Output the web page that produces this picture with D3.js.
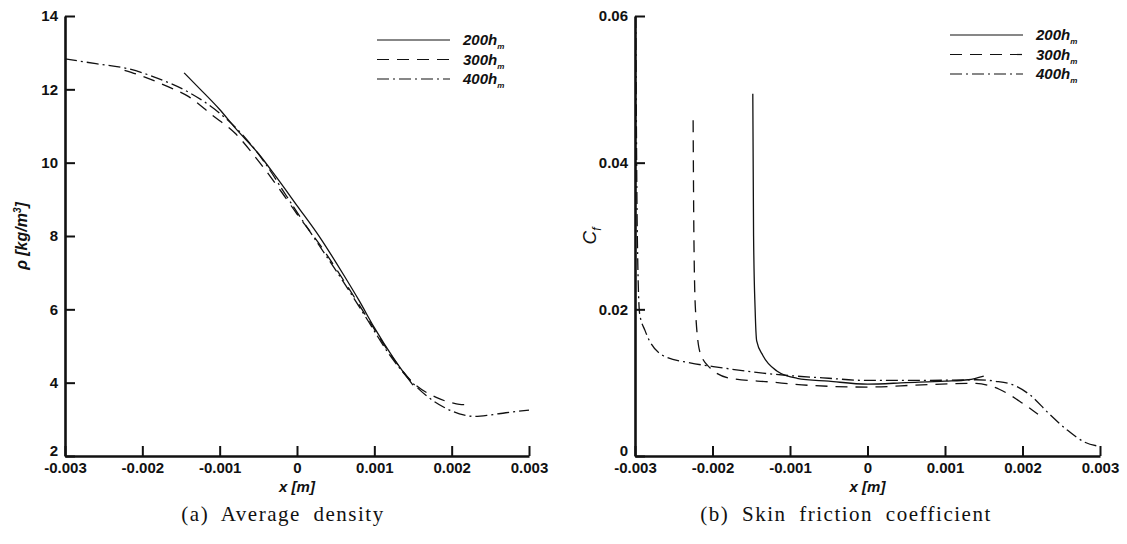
<!DOCTYPE html>
<html>
<head>
<meta charset="utf-8">
<script src="https://cdn.jsdelivr.net/npm/d3@7"></script>
<style>
  body { margin: 0; background: #fff; }
  .tick text { font-family: "Liberation Sans", Arial, sans-serif; font-weight: bold; font-size: 15px; fill: #111; }
  .axlabel { font-family: "Liberation Sans", Arial, sans-serif; font-style: italic; font-weight: bold; fill: #111; }
  .caption { font-family: "Liberation Serif", "DejaVu Serif", serif; font-size: 21px; fill: #111; letter-spacing: 1.5px; word-spacing: 6px; }
  .legtext { font-family: "Liberation Sans", Arial, sans-serif; font-style: italic; font-weight: bold; font-size: 15px; fill: #111; }
</style>
</head>
<body>
<script>
// tick values
const xTicks = [-0.003, -0.002, -0.001, 0, 0.001, 0.002, 0.003];
const rhoTicks = [2, 4, 6, 8, 10, 12, 14];
const cfTicks = [0, 0.02, 0.04, 0.06];
const seriesNames = ["200", "300", "400"];

// average density, [x, rho]
const rho200 = [[-0.00146, 12.45], [-0.00125, 12.0], [-0.001, 11.45], [-0.0008, 10.95], [-0.0005, 10.25],
  [-0.0003, 9.7], [0, 8.83], [0.0003, 7.95], [0.0006, 6.95], [0.0008, 6.25], [0.001, 5.5], [0.00125, 4.66], [0.0015, 3.93]];
const rho300 = [[-0.00223, 12.52], [-0.002, 12.36], [-0.0017, 12.1], [-0.0014, 11.8], [-0.0011, 11.3], [-0.0008, 10.8],
  [-0.0005, 10.05], [-0.0002, 9.2], [0, 8.6], [0.0003, 7.75], [0.0006, 6.8], [0.0009, 5.8], [0.0012, 4.8],
  [0.0015, 4.0], [0.0018, 3.6], [0.002, 3.45], [0.0021, 3.41], [0.00224, 3.4]];
const rho400 = [[-0.003, 12.83], [-0.0026, 12.7], [-0.0022, 12.57], [-0.0018, 12.3], [-0.0014, 11.92], [-0.001, 11.35],
  [-0.0007, 10.75], [-0.0004, 9.95], [-0.0002, 9.3], [0, 8.65], [0.0003, 7.7], [0.0006, 6.75], [0.0009, 5.75],
  [0.0012, 4.75], [0.0015, 3.98], [0.0017, 3.6], [0.0019, 3.33], [0.0021, 3.15], [0.0023, 3.08], [0.0025, 3.12],
  [0.0027, 3.18], [0.003, 3.25]];

// skin friction coefficient, [x, Cf]
const cf200 = [[-0.00148, 0.0494], [-0.00147, 0.03], [-0.00145, 0.02], [-0.00143, 0.0157], [-0.00135, 0.0137],
  [-0.00117, 0.0116], [-0.00091, 0.0106], [-0.0005, 0.0102], [0, 0.0098], [0.0005, 0.01], [0.001, 0.0102],
  [0.0013, 0.0104], [0.0015, 0.0109]];
const cf300 = [[-0.00225, 0.0458], [-0.00224, 0.03], [-0.00222, 0.02], [-0.00216, 0.0141], [-0.00203, 0.012],
  [-0.00177, 0.0106], [-0.00126, 0.0101], [-0.0007, 0.0096], [0, 0.0094], [0.0007, 0.0097], [0.0014, 0.0099],
  [0.0017, 0.0091], [0.002, 0.0072], [0.0022, 0.0057]];
const cf400 = [[-0.00299, 0.06], [-0.00297, 0.03], [-0.00294, 0.0194], [-0.00287, 0.0171], [-0.00264, 0.0137],
  [-0.00229, 0.0127], [-0.00199, 0.0122], [-0.00135, 0.0113], [-0.0005, 0.0106], [0, 0.0103], [0.0007, 0.0103],
  [0.0014, 0.0104], [0.00165, 0.0102], [0.0019, 0.0096], [0.0021, 0.0083], [0.00233, 0.0059], [0.00257, 0.0036],
  [0.0028, 0.0019], [0.003, 0.0013]];

const w = 1127, h = 544;
const dashes = [null, "12,8", "12,4,2,4"];

var svg = d3.select("body").append("svg")
  .attr("width", w)
  .attr("height", h);

const xFmt = d => d === 0 ? "0" : d.toFixed(3);

function panel(opt) {
  var x = d3.scaleLinear().domain([-0.003, 0.003]).range(opt.xr);
  var y = d3.scaleLinear().domain(opt.ydom).range([456, 16]);

  var g = svg.append("g");

  //curves
  var line = d3.line().x(d => x(d[0])).y(d => y(d[1])).curve(d3.curveMonotoneX);
  opt.series.forEach((s, i) => {
    g.append("path")
      .attr("d", line(s))
      .attr("fill", "none")
      .attr("stroke", "#111")
      .attr("stroke-width", 1.3)
      .attr("stroke-dasharray", dashes[i]);
  });

  //axes, ticks point inward
  var xAxis = g.append("g")
    .attr("transform", "translate(0,456)")
    .call(d3.axisBottom(x).tickValues(xTicks).tickFormat(xFmt).tickSizeInner(-10).tickSizeOuter(0).tickPadding(6));
  var yAxis = g.append("g")
    .attr("transform", `translate(${opt.xr[0]},0)`)
    .call(d3.axisLeft(y).tickValues(opt.yticks).tickFormat(opt.yfmt).tickSizeInner(-10).tickSizeOuter(0).tickPadding(7));
  [xAxis, yAxis].forEach(a => {
    a.select(".domain").attr("stroke", "#111").attr("stroke-width", 2.6);
    a.selectAll(".tick line").attr("stroke", "#111").attr("stroke-width", 2);
  });
  //bottom y label sits just above the first x label
  yAxis.selectAll(".tick text").filter(d => d === opt.ydom[0]).attr("y", -5);

  //x label
  g.append("text")
    .attr("class", "axlabel")
    .attr("x", (opt.xr[0] + opt.xr[1]) / 2)
    .attr("y", 492)
    .attr("text-anchor", "middle")
    .style("font-size", "15px")
    .text("x [m]");

  //caption
  g.append("text")
    .attr("class", "caption")
    .attr("x", opt.capx)
    .attr("y", 521)
    .attr("text-anchor", "middle")
    .text(opt.caption);

  //legend
  opt.series.forEach((s, i) => {
    var ly = opt.leg[1] + i * 19.5;
    g.append("line")
      .attr("x1", opt.leg[0]).attr("x2", opt.leg[0] + 73)
      .attr("y1", ly).attr("y2", ly)
      .attr("stroke", "#111")
      .attr("stroke-width", 1.2)
      .attr("stroke-dasharray", dashes[i]);
    var t = g.append("text")
      .attr("class", "legtext")
      .attr("x", opt.leg[0] + 86)
      .attr("y", ly + 5);
    t.append("tspan").text(seriesNames[i] + "h");
    t.append("tspan").attr("dy", 4).style("font-size", "8px").text("m");
  });

  return g;
}

var left = panel({
  xr: [65, 529], ydom: [2, 14], yticks: rhoTicks, yfmt: d => d,
  series: [rho200, rho300, rho400],
  caption: "(a) Average density", capx: 283,
  leg: [377, 40]
});
//rho label
var rl = left.append("text")
  .attr("class", "axlabel")
  .attr("transform", "translate(27,236) rotate(-90)")
  .attr("text-anchor", "middle")
  .style("font-size", "16px");
rl.append("tspan").text("ρ [kg/m");
rl.append("tspan").attr("dy", -6).style("font-size", "10px").text("3");
rl.append("tspan").attr("dy", 6).text("]");

var right = panel({
  xr: [635, 1100], ydom: [0, 0.06], yticks: cfTicks, yfmt: d => d === 0 ? "0" : d.toFixed(2),
  series: [cf200, cf300, cf400],
  caption: "(b) Skin friction coefficient", capx: 846,
  leg: [950, 35]
});
//Cf label
var cl = right.append("text")
  .attr("class", "axlabel")
  .attr("transform", "translate(596,236) rotate(-90)")
  .attr("text-anchor", "middle")
  .style("font-size", "19px")
  .style("font-weight", "normal");
cl.append("tspan").text("C");
cl.append("tspan").attr("dy", 5).style("font-size", "12px").text("f");
</script>
</body>
</html>
